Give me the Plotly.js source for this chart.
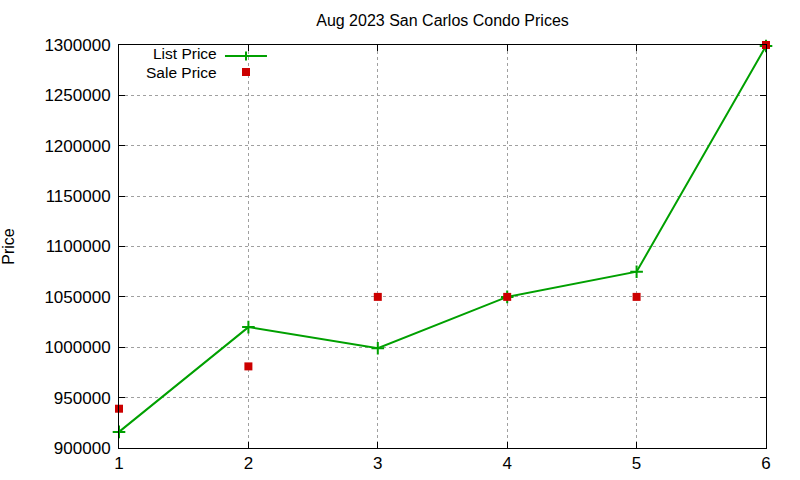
<!DOCTYPE html>
<html>
<head>
<meta charset="utf-8">
<script src="https://cdn.plot.ly/plotly-3.0.1.min.js"></script>
<style>
  body { margin: 0; background: #fff; }
  #chart { width: 800px; height: 480px; }
</style>
</head>
<body>
<div id="chart"></div>
<script>
// values
var listings = [1, 2, 3, 4, 5, 6];
var listPrice = [916000, 1020000, 999000, 1050000, 1075000, 1299000];
var salePrice = [939000, 981000, 1050000, 1050000, 1050000, 1300000];

var green = '#00a000';
var red = '#cc0000';
var fnt = 'Liberation Sans, Arial, sans-serif';

var traceList = {
    x: listings,
    y: listPrice,
    type: 'scatter',
    mode: 'lines+markers',
    name: 'List Price',
    line: { color: green, width: 2 },
    marker: { symbol: 'cross-thin', size: 9, line: { color: green, width: 2 } },
    cliponaxis: false
};

var traceSale = {
    x: listings,
    y: salePrice,
    type: 'scatter',
    mode: 'markers',
    name: 'Sale Price',
    marker: { symbol: 'square', size: 8, color: red },
    cliponaxis: false
};

var axisCommon = {
    showline: true,
    linecolor: '#000',
    linewidth: 1,
    mirror: 'ticks',
    ticks: 'inside',
    ticklen: 6,
    tickcolor: '#000',
    showgrid: true,
    gridcolor: '#a0a0a0',
    griddash: 'dot',
    gridwidth: 1,
    zeroline: false,
    tickfont: { family: fnt, size: 17, color: '#000' }
};

var layout = {
    width: 800,
    height: 480,
    margin: { l: 119, r: 34, t: 45, b: 32 },
    paper_bgcolor: '#fff',
    plot_bgcolor: '#fff',
    showlegend: false,
    font: { family: fnt, size: 16, color: '#000' },
    title: {
        text: 'Aug 2023 San Carlos Condo Prices',
        font: { family: fnt, size: 16, color: '#000' },
        xref: 'paper', x: 0.5, xanchor: 'center',
        yref: 'container', y: 0.958, yanchor: 'middle'
    },
    xaxis: Object.assign({}, axisCommon, {
        range: [1, 6],
        dtick: 1,
        tick0: 1
    }),
    yaxis: Object.assign({}, axisCommon, {
        range: [900000, 1300000],
        dtick: 50000,
        tick0: 900000,
        tickformat: 'd',
        ticklabelstandoff: 4,
        title: { text: 'Price', font: { family: fnt, size: 16, color: '#000' }, standoff: 26 }
    }),
    annotations: [
        { xref: 'paper', yref: 'paper', x: 0.1545, y: 0.9777, xanchor: 'right', yanchor: 'middle',
          text: 'List Price', showarrow: false, font: { family: fnt, size: 15.5, color: '#000' } },
        { xref: 'paper', yref: 'paper', x: 0.1545, y: 0.9330, xanchor: 'right', yanchor: 'middle',
          text: 'Sale Price', showarrow: false, font: { family: fnt, size: 15.5, color: '#000' } }
    ],
    shapes: [
        // legend samples
        { type: 'line', xref: 'paper', yref: 'paper', x0: 0.1638, x1: 0.2287, y0: 0.9727, y1: 0.9727,
          line: { color: green, width: 2 } },
        { type: 'line', xref: 'paper', yref: 'paper', x0: 0.1963, x1: 0.1963, y0: 0.9615, y1: 0.9839,
          line: { color: green, width: 2 } },
        { type: 'rect', xref: 'paper', yref: 'paper', x0: 0.1901, x1: 0.2025, y0: 0.9231, y1: 0.9429,
          fillcolor: red, line: { width: 0 } }
    ]
};

Plotly.newPlot('chart', [traceList, traceSale], layout, { displayModeBar: false, staticPlot: true });
</script>
</body>
</html>
